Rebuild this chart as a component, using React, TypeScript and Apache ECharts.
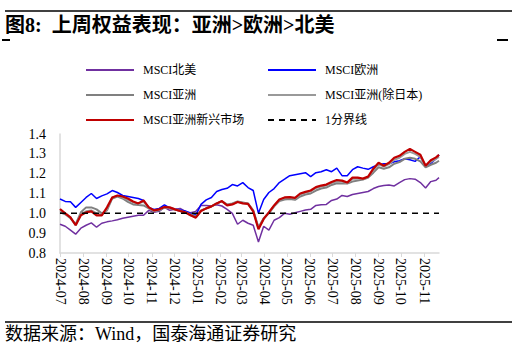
import React, { useEffect, useRef } from "react";
import * as echarts from "echarts";

const dates = [
  "2024-07-01", "2024-07-08", "2024-07-15", "2024-07-22", "2024-07-29",
  "2024-08-05", "2024-08-12", "2024-08-19", "2024-08-26",
  "2024-09-02", "2024-09-09", "2024-09-16", "2024-09-23", "2024-09-30",
  "2024-10-07", "2024-10-14", "2024-10-21", "2024-10-28",
  "2024-11-04", "2024-11-11", "2024-11-18", "2024-11-25",
  "2024-12-02", "2024-12-09", "2024-12-16", "2024-12-23", "2024-12-30",
  "2025-01-06", "2025-01-13", "2025-01-20", "2025-01-27",
  "2025-02-03", "2025-02-10", "2025-02-17", "2025-02-24",
  "2025-03-03", "2025-03-10", "2025-03-17", "2025-03-24", "2025-03-31",
  "2025-04-07", "2025-04-14", "2025-04-21", "2025-04-28",
  "2025-05-05", "2025-05-12", "2025-05-19", "2025-05-26",
  "2025-06-02", "2025-06-09", "2025-06-16", "2025-06-23", "2025-06-30",
  "2025-07-07", "2025-07-14", "2025-07-21", "2025-07-28",
  "2025-08-04", "2025-08-11", "2025-08-18", "2025-08-25",
  "2025-09-01", "2025-09-08", "2025-09-15", "2025-09-22", "2025-09-29",
  "2025-10-06", "2025-10-13", "2025-10-20", "2025-10-27",
  "2025-11-03", "2025-11-10", "2025-11-17", "2025-11-21",
];

const northAmerica = [
  0.945, 0.935, 0.915, 0.895, 0.925, 0.94, 0.952, 0.93, 0.95, 0.957,
  0.962, 0.968, 0.975, 0.98, 0.985, 0.99, 0.99, 1.015, 1.005, 1.01,
  1.03, 1.015, 1.02, 1.025, 1.01, 1.003, 1.01, 1.04, 1.04, 1.037,
  1.043, 1.037, 1.02, 1.0, 0.945, 0.965, 0.95, 0.94, 0.855, 0.935,
  0.915, 0.965, 0.978, 1.0, 0.995, 1.003, 1.01, 1.017, 1.02, 1.04,
  1.043, 1.045, 1.065, 1.072, 1.09, 1.085, 1.095, 1.1, 1.105, 1.11,
  1.125, 1.135, 1.14, 1.143, 1.138, 1.155, 1.17, 1.175, 1.172, 1.155,
  1.128, 1.16, 1.167, 1.18,
];

const europe = [
  1.072, 1.06, 1.058, 1.03, 1.055, 1.08, 1.1, 1.075, 1.088, 1.098,
  1.115, 1.105, 1.09, 1.085, 1.08, 1.075, 1.065, 1.03, 1.02, 1.025,
  1.043, 1.028, 1.022, 1.017, 1.012, 1.0, 0.99, 1.045, 1.068, 1.08,
  1.11, 1.12, 1.126, 1.145, 1.138, 1.155, 1.13, 1.115, 1.0, 1.07,
  1.105, 1.125, 1.155, 1.172, 1.19, 1.195, 1.2, 1.205, 1.185, 1.205,
  1.21, 1.22, 1.21, 1.228, 1.19, 1.19, 1.22, 1.235, 1.228, 1.222,
  1.235, 1.245, 1.25, 1.25, 1.26, 1.265, 1.275, 1.27, 1.262, 1.285,
  1.24, 1.252, 1.275, 1.295,
];

const asia = [
  1.005, 0.995, 0.975, 0.945, 1.005, 1.03, 1.03, 1.02, 1.0, 1.015,
  1.075, 1.085, 1.075, 1.058, 1.045, 1.042, 1.04, 1.025, 1.01, 1.015,
  1.03, 1.025, 1.02, 1.012, 1.005, 0.995, 0.985, 1.015, 1.025, 1.035,
  1.05, 1.06, 1.045, 1.05, 1.06, 1.055, 1.05, 1.015, 0.93, 0.975,
  1.0, 1.035, 1.062, 1.07, 1.072, 1.068, 1.085, 1.095, 1.1, 1.115,
  1.125, 1.13, 1.143, 1.152, 1.15, 1.15, 1.16, 1.165, 1.17, 1.18,
  1.205, 1.232, 1.225, 1.232, 1.25, 1.258, 1.275, 1.28, 1.275, 1.262,
  1.232, 1.245, 1.255, 1.265,
];

const asiaExJapan = [
  1.015, 1.0, 0.98, 0.94, 0.995, 1.01, 1.015, 1.0, 0.992, 1.02,
  1.08, 1.088, 1.08, 1.068, 1.055, 1.05, 1.058, 1.03, 1.012, 1.018,
  1.03, 1.028, 1.02, 1.012, 1.005, 0.99, 0.98, 1.012, 1.025, 1.035,
  1.05, 1.06, 1.042, 1.047, 1.058, 1.052, 1.048, 1.012, 0.925, 0.972,
  1.005, 1.038, 1.068, 1.077, 1.08, 1.075, 1.095, 1.105, 1.11, 1.128,
  1.135, 1.14, 1.152, 1.162, 1.16, 1.152, 1.175, 1.175, 1.172, 1.182,
  1.22, 1.248, 1.235, 1.248, 1.27, 1.28, 1.3, 1.31, 1.3, 1.285,
  1.24, 1.26, 1.275, 1.285,
];

const asiaEM = [
  1.022, 1.0, 0.98, 0.94, 0.99, 1.005, 1.01, 0.99, 0.99, 1.03,
  1.08, 1.09, 1.085, 1.075, 1.06, 1.05, 1.065, 1.03, 1.015, 1.02,
  1.032, 1.03, 1.02, 1.012, 1.005, 0.99, 0.978, 1.012, 1.025, 1.035,
  1.05, 1.062, 1.04, 1.045, 1.057, 1.05, 1.048, 1.01, 0.92, 0.972,
  1.005, 1.04, 1.07, 1.08, 1.082, 1.078, 1.1, 1.108, 1.115, 1.132,
  1.14, 1.145, 1.158, 1.168, 1.165, 1.155, 1.18, 1.18, 1.175, 1.185,
  1.225, 1.255, 1.24, 1.255, 1.28, 1.29, 1.31, 1.325, 1.31, 1.295,
  1.24, 1.268, 1.282, 1.295,
];

const baseline = [1, 1];
const baselineDates = ["2024-07-01", "2025-11-21"];

const names = [
  "MSCI北美",
  "MSCI欧洲",
  "MSCI亚洲",
  "MSCI亚洲(除日本)",
  "MSCI亚洲新兴市场",
  "1分界线",
];

const serif = "'Times New Roman', 'Liberation Serif', 'Noto Sans CJK SC', serif";

export default function App() {
  const ref = useRef<HTMLDivElement>(null);
  useEffect(() => {
    if (!ref.current) return;
    const chart = echarts.init(ref.current, undefined, { renderer: "svg" });
    const toData = (vals: number[]) => dates.map((d, i) => [d, vals[i]]);
    const lineSeries = (name: string, vals: number[], color: string, width: number, z: number) => ({
      name,
      type: "line",
      data: toData(vals),
      showSymbol: false,
      symbol: "none",
      z,
      lineStyle: { color, width },
      itemStyle: { color },
    });
    const legendText = { fontFamily: serif, fontSize: 12, color: "#000", padding: [0, 0, 0, 4] };
    const legendBase = {
      top: 59, orient: "vertical", itemGap: 13, itemWidth: 48, itemHeight: 14,
      textStyle: legendText, itemStyle: { opacity: 0 },
    };
    chart.setOption({
      animation: false,
      backgroundColor: "#fff",
      grid: { left: 60, right: 73, top: 134, bottom: 94 },
      legend: [
        { ...legendBase, left: 80, data: [names[0], names[2], names[4]] },
        { ...legendBase, left: 262, data: [names[1], names[3], names[5]] },
      ],
      xAxis: {
        type: "time",
        min: "2024-07-01",
        max: "2025-11-21",
        splitNumber: 17,
        minInterval: 28 * 86400000,
        maxInterval: 31 * 86400000,
        axisLine: { show: true, lineStyle: { color: "#D9D9D9", width: 1.5 } },
        axisTick: { show: true, length: 4, lineStyle: { color: "#D9D9D9" } },
        splitLine: { show: false },
        axisLabel: {
          formatter: "{yyyy}-{MM}",
          rotate: -90,
          fontFamily: serif,
          fontSize: 14,
          color: "#000",
          margin: 5,
          showMaxLabel: false,
        },
      },
      yAxis: {
        type: "value",
        min: 0.8,
        max: 1.4,
        interval: 0.1,
        axisLine: { show: true, lineStyle: { color: "#D9D9D9", width: 1.5 } },
        axisTick: { show: false },
        splitLine: { show: false },
        axisLabel: {
          formatter: (v: number) => v.toFixed(1),
          fontFamily: serif,
          fontSize: 14,
          color: "#000",
          margin: 14,
        },
      },
      series: [
        lineSeries(names[0], northAmerica, "#7030A0", 1.5, 2),
        lineSeries(names[1], europe, "#0000FF", 1.5, 3),
        lineSeries(names[2], asia, "#808080", 2, 4),
        lineSeries(names[3], asiaExJapan, "#999999", 2, 5),
        lineSeries(names[4], asiaEM, "#C00000", 2.2, 6),
        {
          name: names[5],
          type: "line",
          data: baselineDates.map((d, i) => [d, baseline[i]]),
          showSymbol: false,
          symbol: "none",
          z: 7,
          lineStyle: { color: "#000", width: 1.5, type: [6, 5] },
          itemStyle: { color: "#000" },
        },
      ],
      graphic: [
        { type: "line", shape: { x1: 5, y1: 11, x2: 512, y2: 11 }, style: { stroke: "#000", lineWidth: 1.5 } },
        { type: "line", shape: { x1: 2, y1: 40, x2: 10, y2: 40 }, style: { stroke: "#000", lineWidth: 2 } },
        { type: "line", shape: { x1: 497, y1: 40, x2: 508, y2: 40 }, style: { stroke: "#000", lineWidth: 2 } },
        {
          type: "text",
          left: 5,
          top: 15,
          style: {
            text: "图8:  上周权益表现：亚洲>欧洲>北美",
            font: "bold 20px " + serif,
            fill: "#000",
          },
        },
        { type: "line", shape: { x1: 5, y1: 322, x2: 512, y2: 322 }, style: { stroke: "#000", lineWidth: 1.5 } },
        {
          type: "text",
          left: 5,
          top: 325,
          style: {
            text: "数据来源：Wind，国泰海通证券研究",
            font: "18px " + serif,
            fill: "#000",
          },
        },
      ],
    });
    return () => chart.dispose();
  }, []);
  return <div ref={ref} style={{ width: 512, height: 347, position: "absolute", left: 0, top: 0 }} />;
}
